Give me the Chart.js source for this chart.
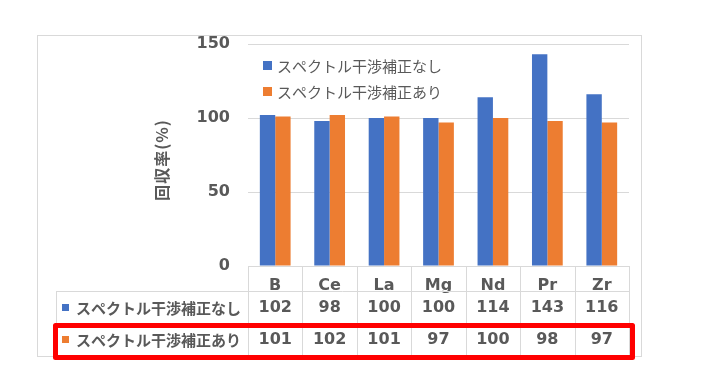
<!DOCTYPE html>
<html>
<head>
<meta charset="utf-8">
<script src="https://cdn.jsdelivr.net/npm/chart.js@4/dist/chart.umd.min.js"></script>
<style>
  html, body { margin: 0; padding: 0; background: #fff; }
  #wrap { width: 712px; height: 391px; }
</style>
</head>
<body>
<div id="wrap"><canvas id="chart_div" width="712" height="391"></canvas></div>
<script>
// data
var categories = ['B', 'Ce', 'La', 'Mg', 'Nd', 'Pr', 'Zr'];
var seriesNames = ['スペクトル干渉補正なし', 'スペクトル干渉補正あり'];
var withoutCorrection = [102, 98, 100, 100, 114, 143, 116];
var withCorrection = [101, 102, 101, 97, 100, 98, 97];
var yTicks = [0, 50, 100, 150];
var yTitle = '回収率(%)';

var seriesColors = ['#4472c4', '#ed7d31'];
var textColor = '#595959';
var lineColor = '#d9d9d9';
var latin = "'DejaVu Sans', 'Noto Sans CJK JP', sans-serif";
var cjk = "'Noto Sans CJK JP', sans-serif";

// data table under the plot + legend + outer frame
var tablePlugin = {
  id: 'dataTable',
  afterDraw: function (chart) {
    var ctx = chart.ctx;
    var area = chart.chartArea;
    var xs = chart.scales.x;
    var ys = chart.scales.y;
    var n = categories.length;
    var catW = (area.right - area.left) / n;
    var top = Math.round(ys.getPixelForValue(0));
    var rowBottoms = [top + 25, top + 57, top + 89];
    var tableLeft = 56;

    ctx.save();

    // outer chart frame
    ctx.strokeStyle = lineColor;
    ctx.lineWidth = 1;
    ctx.strokeRect(37.5, 35.5, 604, 321);

    // table grid
    ctx.beginPath();
    ctx.moveTo(area.left, top + 0.5);
    ctx.lineTo(area.right, top + 0.5);
    for (var r = 0; r < rowBottoms.length; r++) {
      ctx.moveTo(tableLeft, rowBottoms[r] + 0.5);
      ctx.lineTo(area.right, rowBottoms[r] + 0.5);
    }
    for (var k = 0; k <= n; k++) {
      var ex = Math.round(area.left + k * catW) + 0.5;
      ctx.moveTo(ex, top);
      ctx.lineTo(ex, rowBottoms[2] + 0.5);
    }
    ctx.moveTo(tableLeft + 0.5, rowBottoms[0]);
    ctx.lineTo(tableLeft + 0.5, rowBottoms[2] + 0.5);
    ctx.stroke();

    // rows: label + values
    chart.data.datasets.forEach(function (ds, di) {
      var cy = (rowBottoms[di] + rowBottoms[di + 1]) / 2 + 1;
      ctx.fillStyle = ds.backgroundColor;
      ctx.fillRect(62, Math.round(cy - 4), 7, 7);
      ctx.fillStyle = textColor;
      ctx.textBaseline = 'middle';
      ctx.textAlign = 'left';
      ctx.font = 'bold 15px ' + cjk;
      ctx.fillText(ds.label, 76, cy);
      ctx.textAlign = 'center';
      ctx.font = 'bold 16px ' + latin;
      ds.data.forEach(function (v, i) {
        ctx.fillText(String(v), xs.getPixelForValue(i), cy);
      });
    });

    // legend inside the plot
    chart.data.datasets.forEach(function (ds, di) {
      var ly = 61 + di * 26;
      ctx.fillStyle = ds.backgroundColor;
      ctx.fillRect(263, ly, 9, 9);
      ctx.fillStyle = textColor;
      ctx.textAlign = 'left';
      ctx.textBaseline = 'middle';
      ctx.font = '15px ' + cjk;
      ctx.fillText(ds.label, 277, ly + 5);
    });

    // y axis title
    ctx.save();
    ctx.translate(162, 160);
    ctx.rotate(-Math.PI / 2);
    ctx.fillStyle = textColor;
    ctx.textAlign = 'center';
    ctx.textBaseline = 'middle';
    ctx.font = 'bold 16px ' + cjk;
    ctx.letterSpacing = '1px';
    ctx.fillText(yTitle, 0, 0);
    ctx.restore();

    // red highlight round the second row
    ctx.strokeStyle = '#ff0000';
    ctx.lineWidth = 5;
    ctx.lineJoin = 'round';
    ctx.strokeRect(55.5, 325.5, 577, 32);

    ctx.restore();
  }
};

var chart = new Chart(document.getElementById('chart_div'), {
  type: 'bar',
  data: {
    labels: categories,
    datasets: [
      { label: seriesNames[0], data: withoutCorrection, backgroundColor: seriesColors[0] },
      { label: seriesNames[1], data: withCorrection, backgroundColor: seriesColors[1] }
    ]
  },
  options: {
    responsive: false,
    devicePixelRatio: 1,
    animation: false,
    barPercentage: 1,
    categoryPercentage: 0.565,
    layout: { padding: { left: 0, top: 44, right: 83, bottom: 0 } },
    plugins: { legend: { display: false }, tooltip: { enabled: false } },
    scales: {
      x: {
        grid: { display: false },
        border: { display: false },
        ticks: { color: textColor, font: { family: latin, size: 16, weight: 'bold' }, padding: 2 },
        afterFit: function (s) { s.height = 125; }
      },
      y: {
        min: yTicks[0],
        max: yTicks[yTicks.length - 1],
        afterBuildTicks: function (s) {
          s.ticks = yTicks.map(function (v) { return { value: v }; });
        },
        grid: { color: lineColor, drawTicks: false },
        border: { display: false },
        ticks: { color: textColor, font: { family: latin, size: 16, weight: 'bold' }, padding: 18 },
        afterFit: function (s) { s.width = 248; }
      }
    }
  },
  plugins: [tablePlugin]
});
</script>
</body>
</html>
